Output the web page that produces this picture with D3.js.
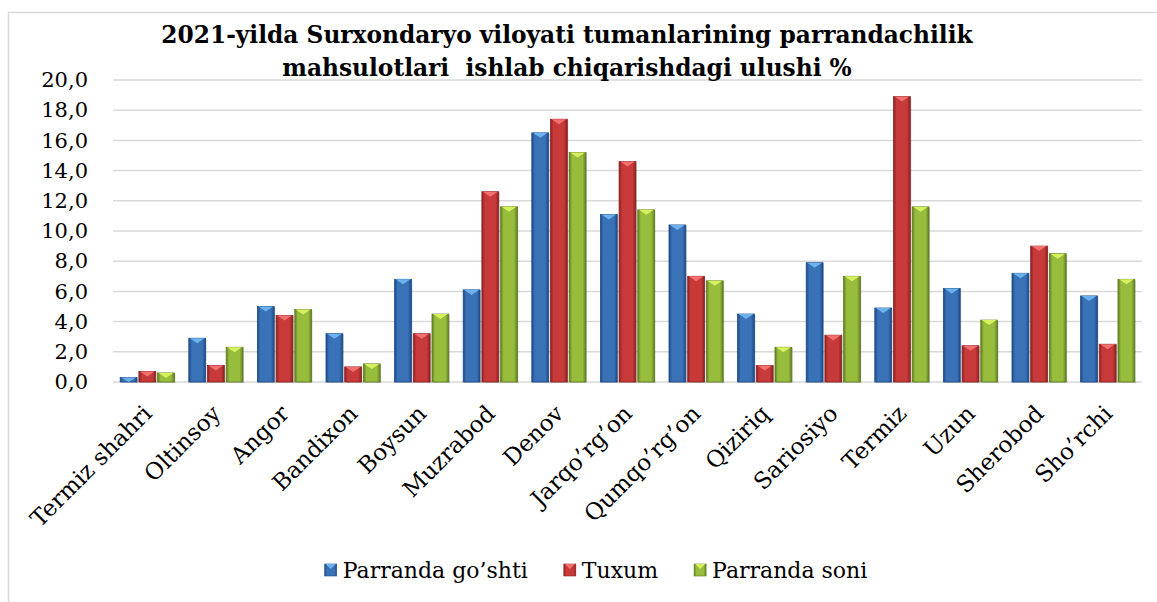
<!DOCTYPE html>
<html>
<head>
<meta charset="utf-8">
<script src="https://cdn.jsdelivr.net/npm/d3@7"></script>
<style>
  body { margin: 0; background: #fff; }
</style>
</head>
<body>
<div id="chart"></div>
<script>
var districts = ["Termiz shahri", "Oltinsoy", "Angor", "Bandixon", "Boysun", "Muzrabod", "Denov",
    "Jarqo\u2019rg\u2019on", "Qumqo\u2019rg\u2019on", "Qiziriq", "Sariosiyo", "Termiz", "Uzun", "Sherobod", "Sho\u2019rchi"];
var seriesNames = ["Parranda go\u2019shti", "Tuxum", "Parranda soni"];
var goshti = [0.3, 2.9, 5.0, 3.2, 6.8, 6.1, 16.5, 11.1, 10.4, 4.5, 7.9, 4.9, 6.2, 7.2, 5.7];
var tuxum = [0.7, 1.1, 4.4, 1.0, 3.2, 12.6, 17.4, 14.6, 7.0, 1.1, 3.1, 18.9, 2.4, 9.0, 2.5];
var soni = [0.6, 2.3, 4.8, 1.2, 4.5, 11.6, 15.2, 11.4, 6.7, 2.3, 7.0, 11.6, 4.1, 8.5, 6.8];
var yTicks = [0, 2, 4, 6, 8, 10, 12, 14, 16, 18, 20];
var titleLines = ["2021-yilda Surxondaryo viloyati tumanlarining parrandachilik",
    "mahsulotlari  ishlab chiqarishdagi ulushi %"];

var W = 1157, H = 602;
var plot = { left: 113, right: 1142, top: 80, bottom: 382 };
var serif = "'DejaVu Serif', serif";

var colors = [
    { main: "#3a72b8", edge: "#1d4a86", light: "#6cb3ee" },
    { main: "#c8393a", edge: "#8a2222", light: "#f27070" },
    { main: "#98bc3c", edge: "#5f7d22", light: "#d6f060" }
];

var svg = d3.select("#chart").append("svg")
    .attr("width", W)
    .attr("height", H);

// gradients for bar bodies
var defs = svg.append("defs");
colors.forEach(function (c, i) {
    var g = defs.append("linearGradient")
        .attr("id", "grad" + i)
        .attr("x1", "0").attr("x2", "1").attr("y1", "0").attr("y2", "0");
    g.append("stop").attr("offset", "0%").attr("stop-color", c.edge);
    g.append("stop").attr("offset", "18%").attr("stop-color", c.main);
    g.append("stop").attr("offset", "80%").attr("stop-color", c.main);
    g.append("stop").attr("offset", "100%").attr("stop-color", c.edge);
});

// chart frame (only left and top edges visible)
svg.append("rect")
    .attr("x", 8.5).attr("y", 12.5)
    .attr("width", W + 20).attr("height", H + 20)
    .attr("fill", "none")
    .attr("stroke", "#d9d9d9")
    .attr("stroke-width", 1.5);

var y = d3.scaleLinear()
    .domain([0, 20])
    .range([plot.bottom, plot.top]);

var x0 = d3.scaleBand()
    .domain(districts)
    .range([plot.left, plot.right])
    .paddingInner(0.21)
    .paddingOuter(0.105);

var x1 = d3.scaleBand()
    .domain(d3.range(3))
    .range([0, x0.bandwidth()])
    .paddingInner(0.1);

// gridlines
svg.append("g")
    .selectAll("line")
    .data(yTicks)
    .join("line")
    .attr("x1", plot.left)
    .attr("x2", plot.right)
    .attr("y1", function (d) { return y(d); })
    .attr("y2", function (d) { return y(d); })
    .attr("stroke", "#d9d9d9")
    .attr("stroke-width", 1.5);

// y axis labels
var yAxis = svg.append("g")
    .attr("transform", "translate(" + (plot.left - 10) + ",0)")
    .call(d3.axisLeft(y).tickValues(yTicks).tickSize(0).tickPadding(15)
        .tickFormat(function (d) { return d3.format(".1f")(d).replace(".", ","); }));
yAxis.select(".domain").remove();
yAxis.selectAll("text")
    .attr("fill", "#000")
    .style("font-family", serif)
    .style("font-size", "21px");

var allSeries = [goshti, tuxum, soni];

var groups = svg.append("g")
    .selectAll("g")
    .data(districts)
    .join("g")
    .attr("transform", function (d) { return "translate(" + x0(d) + ",0)"; });

groups.each(function (d, i) {
    var g = d3.select(this);
    allSeries.forEach(function (s, k) {
        var bx = x1(k), bw = x1.bandwidth();
        var top = y(s[i]), h = y(0) - y(s[i]);
        g.append("rect")
            .attr("x", bx + 1).attr("y", top + 1)
            .attr("width", bw).attr("height", h)
            .attr("fill", "#000").attr("opacity", 0.15);
        g.append("rect")
            .attr("x", bx).attr("y", top)
            .attr("width", bw).attr("height", h)
            .attr("fill", "url(#grad" + k + ")")
            .attr("stroke", colors[k].edge)
            .attr("stroke-width", 0.8);
        var th = Math.min(5, h);
        g.append("path")
            .attr("d", "M" + (bx + 1) + "," + top + "L" + (bx + bw - 1) + "," + top +
                "L" + (bx + bw / 2) + "," + (top + th) + "Z")
            .attr("fill", colors[k].light);
    });
});

// category labels
svg.append("g")
    .selectAll("text")
    .data(districts)
    .join("text")
    .attr("transform", function (d) {
        return "translate(" + (x0(d) + x0.bandwidth() / 2 + 6) + "," + (plot.bottom + 33) + ") rotate(-45)";
    })
    .attr("text-anchor", "end")
    .attr("fill", "#000")
    .style("font-family", serif)
    .style("font-size", "23px")
    .text(function (d) { return d; });

// title
svg.append("g")
    .selectAll("text")
    .data(titleLines)
    .join("text")
    .attr("x", 567)
    .attr("y", function (d, i) { return 43 + i * 33; })
    .attr("text-anchor", "middle")
    .attr("font-weight", "bold")
    .attr("fill", "#000")
    .style("font-family", serif)
    .style("font-size", "23.3px")
    .style("white-space", "pre")
    .text(function (d) { return d; });

// legend
var legend = svg.append("g");
var lx = 0;
seriesNames.forEach(function (name, k) {
    var item = legend.append("g").attr("transform", "translate(" + lx + ",0)");
    item.append("rect")
        .attr("x", 0).attr("y", -6).attr("width", 12).attr("height", 12)
        .attr("fill", "url(#grad" + k + ")")
        .attr("stroke", colors[k].edge).attr("stroke-width", 0.6);
    item.append("path")
        .attr("d", "M1,-6L11,-6L6,-1Z")
        .attr("fill", colors[k].light);
    var t = item.append("text")
        .attr("x", 18).attr("y", 8)
        .attr("fill", "#000")
        .style("font-family", serif)
        .style("font-size", "22px")
        .text(name);
    lx += 18 + t.node().getComputedTextLength() + 36;
});
var legendW = lx - 36;
legend.attr("transform", "translate(" + (596 - legendW / 2) + ",570)");
</script>
</body>
</html>
